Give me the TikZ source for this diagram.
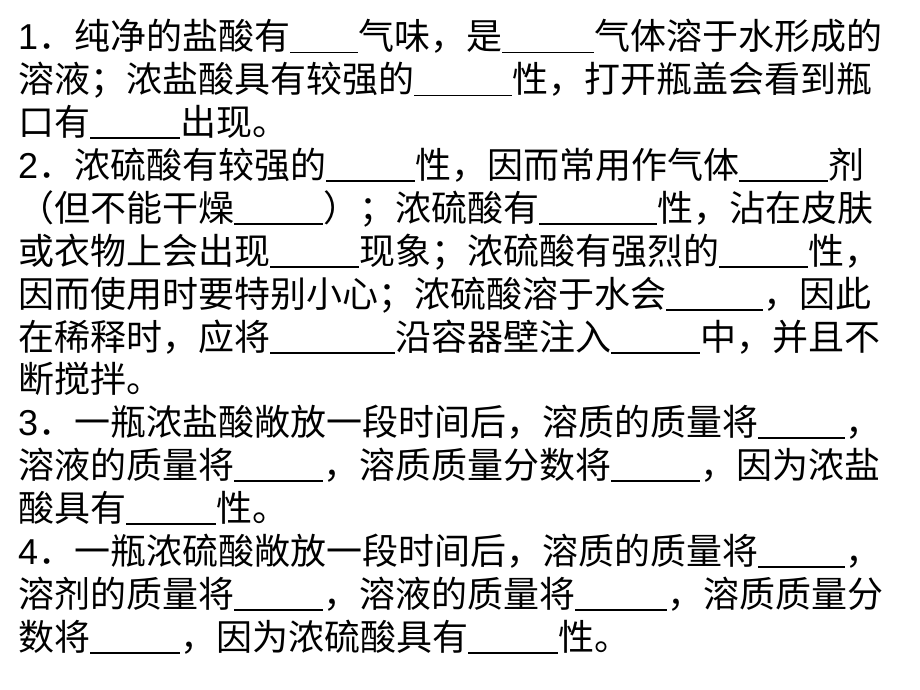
\documentclass[tikz,border=0pt]{standalone}
\usepackage{fontspec}
\setmainfont{Noto Sans CJK SC}
\newfontfamily\numfont{Liberation Sans}
\newcommand{\blank}[1]{\rule[-3.5pt]{#1pt}{1.8pt}}
\newcommand{\num}[1]{{\numfont #1}}

\begin{document}
\begin{tikzpicture}[x=1pt,y=-1pt,line node/.style={anchor=base west,inner sep=0pt,font=\fontsize{36pt}{43pt}\selectfont}]
    \useasboundingbox[fill=white] (0,0) rectangle (920,690);
    % question 1
    \node[line node] (l1) at (18,50) {\num{1}．纯净的盐酸有\blank{68}气味，是\blank{92}气体溶于水形成的};
    \node[line node] (l2) at (18,92.9) {溶液；浓盐酸具有较强的\blank{98}性，打开瓶盖会看到瓶};
    \node[line node] (l3) at (18,135.7) {口有\blank{90}出现。};
    % question 2
    \node[line node] (l4) at (18,178.6) {\num{2}．浓硫酸有较强的\blank{89}性，因而常用作气体\blank{89}剂};
    \node[line node] (l5) at (18,221.4) {（但不能干燥\blank{89}）；浓硫酸有\blank{118}性，沾在皮肤};
    \node[line node] (l6) at (18,264.3) {或衣物上会出现\blank{89}现象；浓硫酸有强烈的\blank{89}性，};
    \node[line node] (l7) at (18,307.2) {因而使用时要特别小心；浓硫酸溶于水会\blank{97}，因此};
    \node[line node] (l8) at (18,350) {在稀释时，应将\blank{125}沿容器壁注入\blank{89}中，并且不};
    \node[line node] (l9) at (18,392.9) {断搅拌。};
    % question 3
    \node[line node] (l10) at (18,435.7) {\num{3}．一瓶浓盐酸敞放一段时间后，溶质的质量将\blank{87}，};
    \node[line node] (l11) at (18,478.6) {溶液的质量将\blank{89}，溶质质量分数将\blank{89}，因为浓盐};
    \node[line node] (l12) at (18,521.4) {酸具有\blank{90}性。};
    % question 4
    \node[line node] (l13) at (18,564.3) {\num{4}．一瓶浓硫酸敞放一段时间后，溶质的质量将\blank{87}，};
    \node[line node] (l14) at (18,607.2) {溶剂的质量将\blank{89}，溶液的质量将\blank{92}，溶质质量分};
    \node[line node] (l15) at (18,650) {数将\blank{90}，因为浓硫酸具有\blank{90}性。};
\end{tikzpicture}
\end{document}
